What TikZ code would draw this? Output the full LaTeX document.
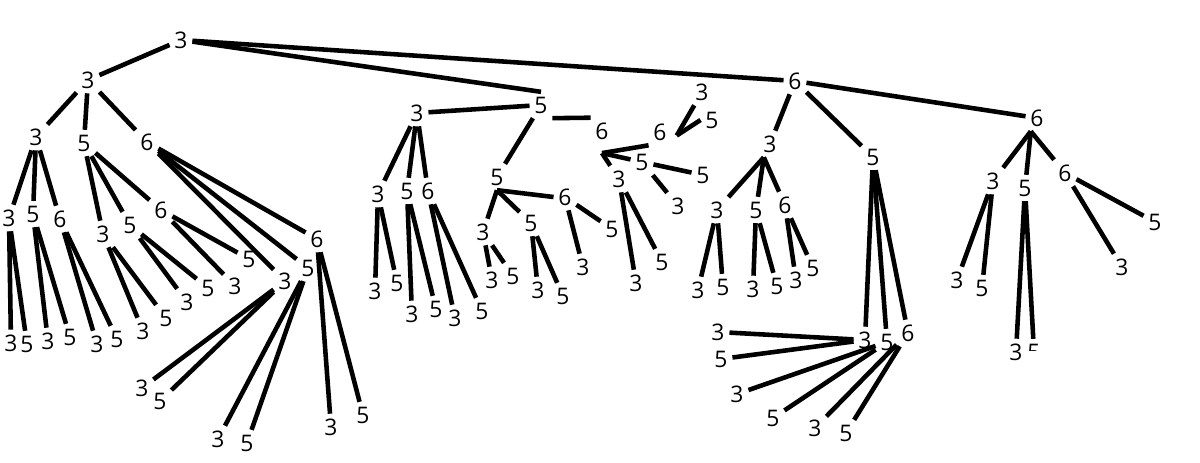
\documentclass[tikz,border=0pt]{standalone}
\usepackage{fontspec}
\setmainfont{Open Sans}
\begin{document}
\begin{tikzpicture}[x=0.02cm,y=-0.02cm,
  lab/.style={font=\fontsize{13}{15}\selectfont, inner sep=2.6pt, text=black},
  edge/.style={line width=2.6pt, black}]
\useasboundingbox (0,0) rectangle (1200,463);
% root and level 1
\node[lab] (r) at (181,40) {3};
\node[lab] (A) at (88,80) {3};
\node[lab] (B) at (541,105) {5};
\node[lab] (C) at (795,81) {6};
% left subtree
\node[lab] (A1) at (36,137) {3};
\node[lab] (A2) at (84,143) {5};
\node[lab] (A3) at (147,142) {6};
\node[lab] (A11) at (9,218) {3};
\node[lab] (A12) at (33,214) {5};
\node[lab] (A13) at (60,219) {6};
\node[lab] (A111) at (11,343) {3};
\node[lab] (A112) at (27,344) {5};
\node[lab] (A121) at (48,341) {3};
\node[lab] (A122) at (70,337) {5};
\node[lab] (A131) at (97,344) {3};
\node[lab] (A132) at (117,339) {5};
\node[lab] (A21) at (103,234) {3};
\node[lab] (A22) at (130,225) {5};
\node[lab] (A23) at (161,210) {6};
\node[lab] (A211) at (143,331) {3};
\node[lab] (A212) at (166,318) {5};
\node[lab] (A221) at (187,302) {3};
\node[lab] (A222) at (208,288) {5};
\node[lab] (A231) at (235,286) {3};
\node[lab] (A232) at (249,259) {5};
\node[lab] (A31) at (285,281) {3};
\node[lab] (A32) at (308,268) {5};
\node[lab] (A33) at (317,239) {6};
\node[lab] (A311) at (142,388) {3};
\node[lab] (A312) at (160,401) {5};
\node[lab] (A321) at (218,439) {3};
\node[lab] (A322) at (247,443) {5};
\node[lab] (A331) at (331,427) {3};
\node[lab] (A332) at (363,415) {5};
% middle subtree
\node[lab] (B1) at (417,113) {3};
\node[lab] (B2) at (497,177) {5};
\node[lab] (B3) at (602,131) {6};
\node[lab] (B11) at (378,194) {3};
\node[lab] (B12) at (407,191) {5};
\node[lab] (B13) at (428,191) {6};
\node[lab] (B111) at (375,291) {3};
\node[lab] (B112) at (397,283) {5};
\node[lab] (B121) at (412,314) {3};
\node[lab] (B122) at (436,309) {5};
\node[lab] (B131) at (455,318) {3};
\node[lab] (B132) at (482,311) {5};
\node[lab] (B21) at (483,232) {3};
\node[lab] (B22) at (531,223) {5};
\node[lab] (B23) at (565,197) {6};
\node[lab] (B211) at (492,280) {3};
\node[lab] (B212) at (513,276) {5};
\node[lab] (B221) at (538,290) {3};
\node[lab] (B222) at (563,296) {5};
\node[lab] (B231) at (583,267) {3};
\node[lab] (B232) at (612,229) {5};
\node[lab] (B31) at (619,179) {3};
\node[lab] (B32) at (642,162) {5};
\node[lab] (B33) at (660,132) {6};
\node[lab] (B311) at (636,283) {3};
\node[lab] (B312) at (662,262) {5};
\node[lab] (B321) at (678,206) {3};
\node[lab] (B322) at (703,175) {5};
\node[lab] (B331) at (702,92) {3};
\node[lab] (B332) at (712,120) {5};
% right subtree
\node[lab] (C1) at (770,144) {3};
\node[lab] (C2) at (873,157) {5};
\node[lab] (C3) at (1037,118) {6};
\node[lab] (C11) at (717,210) {3};
\node[lab] (C12) at (756,210) {5};
\node[lab] (C13) at (785,205) {6};
\node[lab] (C111) at (698,290) {3};
\node[lab] (C112) at (723,287) {5};
\node[lab] (C121) at (753,289) {3};
\node[lab] (C122) at (777,286) {5};
\node[lab] (C131) at (796,280) {3};
\node[lab] (C132) at (813,268) {5};
\node[lab] (C21) at (865,340) {3};
\node[lab] (C22) at (887,342) {5};
\node[lab] (C23) at (908,333) {6};
\node[lab] (C211) at (718,332) {3};
\node[lab] (C212) at (721,359) {5};
\node[lab] (C221) at (737,394) {3};
\node[lab] (C222) at (773,418) {5};
\node[lab] (C231) at (815,428) {3};
\node[lab] (C232) at (846,433) {5};
\node[lab] (C31) at (993,181) {3};
\node[lab] (C32) at (1025,188) {5};
\node[lab] (C33) at (1065,173) {6};
\node[lab] (C311) at (957,280) {3};
\node[lab] (C312) at (982,288) {5};
\node[lab] (C321) at (1016,352) {3};
\begin{scope}
\clip (1020,330) rectangle (1050,350);
\node[lab] (C322) at (1034,352) {5};
\end{scope}
\node[lab] (C331) at (1122,267) {3};
\node[lab] (C332) at (1155,222) {5};
% fan apex points just below some labels
\coordinate (B3apex) at ([yshift=-5pt]B3.south);
\coordinate (B33apex) at ([xshift=3pt,yshift=-2pt]B33.east);
% connectors
\foreach \p/\c in {r/A,r/B.north,r/C,
  A/A1,A/A2,A/A3,A1/A11,A1/A12,A1/A13,A11/A111,A11/A112,A12/A121,A12/A122,
  A13/A131,A13/A132,A2/A21,A2/A22,A2/A23,A21/A211,A21/A212,A22/A221,A22/A222,
  A23/A231,A23/A232,A3/A31,A3/A32,A3/A33,A31/A311,A31/A312,A32/A321,A32/A322,
  A33/A331,A33/A332,
  B/B1,B.south east/B3.north west,B/B2,B1/B11,B1/B12,B1/B13,B11/B111,B11/B112,B12/B121,B12/B122,
  B13/B131,B13/B132,B2.south/B21,B2.south/B22,B2.south/B23.west,B21/B211,B21/B212,B22/B221,B22/B222,
  B23/B231,B23/B232,B3apex/B31,B3apex/B32,B3apex/B33.south west,B31/B311,B31/B312,B32/B321,B32/B322,
  B33apex/B331,B33apex/B332.west,
  C/C1,C/C2,C/C3,C1.-115/C11,C1.-115/C12,C1.-115/C13,C11/C111,C11/C112,C12/C121,C12/C122,
  C13/C131,C13/C132,C2/C21,C2/C22,C2/C23,C21/C211,C21/C212,C22/C221,C22/C222,
  C23/C231,C23/C232,C3.-115/C31,C3.-115/C32,C3.-115/C33,C31/C311,C31/C312,C32/C321,C32/C322,
  C33/C331,C33/C332}
  \draw[edge] (\p) -- (\c);
\end{tikzpicture}
\end{document}
